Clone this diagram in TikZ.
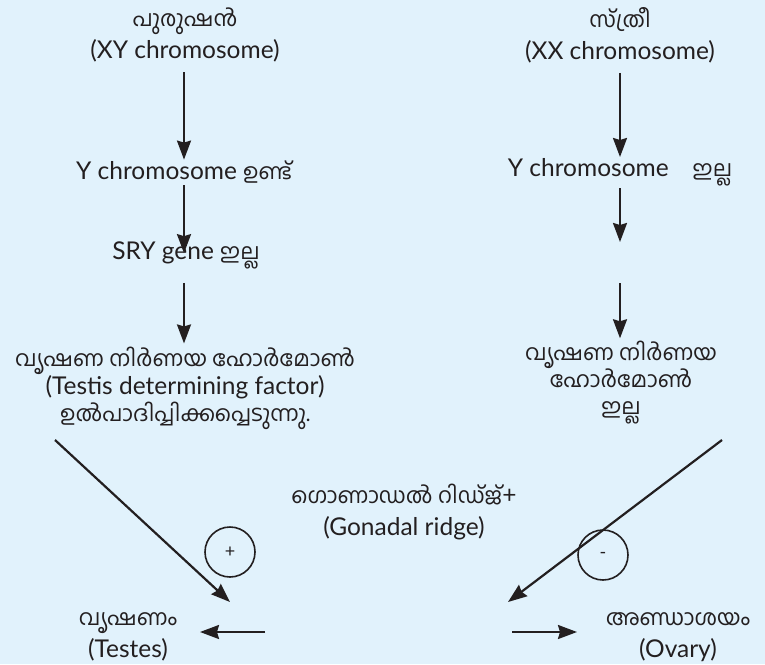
\documentclass[tikz,border=0pt]{standalone}
\usepackage{fontspec}
\setmainfont{Lato}
\newfontfamily\malfont[Script=Malayalam]{Hind Kochi}
\newcommand{\ml}[1]{{\fontsize{22}{27}\malfont #1}}
\usetikzlibrary{arrows.meta}
\definecolor{bg}{HTML}{E1F2FC}
\definecolor{ink}{HTML}{231F20}
\begin{document}
\begin{tikzpicture}[x=1pt,y=-1pt,
  txt/.style={text=ink, align=center, font=\fontsize{24.5}{29}\selectfont, inner sep=0pt},
  wide/.style={font=\fontsize{24.5}{32}\selectfont},
  tight/.style={font=\fontsize{24.5}{27}\selectfont},
  arr/.style={draw=ink, line width=2.2pt, -{Stealth[length=19pt,width=14pt,inset=2pt]}},
  sign/.style={circle, draw=ink, line width=1.6pt, minimum size=50pt, inner sep=0pt, text=ink, font=\fontsize{18}{18}\selectfont}]
\useasboundingbox (0,0) rectangle (765,664);
\fill[bg] (0,0) rectangle (765,664);
% left column
\node[txt, wide] (male) at (185,35) {\ml{പുരുഷൻ}\\(XY chromosome)};
\node[txt] (ychL) at (184,172) {Y chromosome \ml{ഉണ്ട്}};
\node[txt] (sry) at (186,255) {SRY gene \ml{ഇല്ല}};
\node[txt, tight] (tdf) at (185,388) {\ml{വൃഷണ നിർണയ ഹോർമോൺ}\\(Testis determining factor)\\\ml{ഉൽപാദിപ്പിക്കപ്പെടുന്നു.}};
% right column
\node[txt, wide] (female) at (620,35) {\ml{സ്ത്രീ}\\(XX chromosome)};
\node[txt] (ychR) at (620,172) {Y chromosome\hspace{24pt}\ml{ഇല്ല}};
\node[txt, tight] (notdf) at (621,383) {\ml{വൃഷണ നിർണയ}\\\ml{ഹോർമോൺ}\\\ml{ഇല്ല}};
% middle
\node[txt, wide] (ridge) at (404,512) {\ml{ഗൊണാഡൽ റിഡ്ജ്}+\\(Gonadal ridge)};
\node[sign] (plus) at (230,552) {+};
\node[sign] (minus) at (603,555) {-};
\node[txt, wide] (testes) at (128,637) {\ml{വൃഷണം}\\(Testes)};
\node[txt, wide] (ovary) at (678,637) {\ml{അണ്ഡാശയം}\\(Ovary)};
% connector ends
\coordinate (dLs) at (55,440);
\coordinate (dLe) at (230,602);
\coordinate (dRs) at (722,440);
\coordinate (dRe) at (508,602);
\coordinate (hLs) at (265,632);
\coordinate (hLe) at (200,632);
\coordinate (hRs) at (512,632);
\coordinate (hRe) at (577,632);
\coordinate (mL) at (184,300);
\coordinate (gapR) at (620,242);
\coordinate (gapR2) at (620,283);
% arrows
\draw[arr, shorten <=10pt, shorten >=1pt] (male.south -| ychL.north) -- (ychL.north);
\draw[arr, shorten <=2pt, shorten >=-12pt] (ychL.south) -- (mL |- sry.north);
\draw[arr, shorten <=14pt, shorten >=3pt] (mL |- sry.south) -- (mL |- tdf.north);
\draw[arr, shorten <=10pt, shorten >=1pt] (female.south) -- (ychR.north);
\draw[arr, shorten <=2pt] (ychR.south) -- (gapR);
\draw[arr, shorten >=3pt] (gapR2) -- (gapR2 |- notdf.north);
\draw[arr] (dLs) -- (dLe);
\draw[arr] (dRs) -- (dRe);
\draw[arr] (hLs) -- (hLe);
\draw[arr] (hRs) -- (hRe);
\end{tikzpicture}
\end{document}
